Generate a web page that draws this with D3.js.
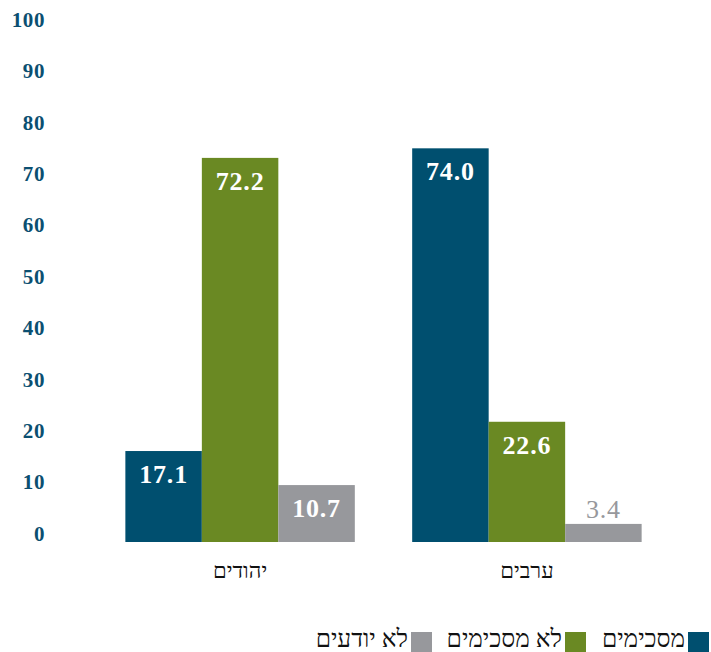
<!DOCTYPE html>
<html><head><meta charset="utf-8">
<script src="https://cdn.jsdelivr.net/npm/d3@7/dist/d3.min.js"></script>
<style>body{margin:0;background:#fff}svg{display:block}</style>
</head><body>
<svg id="c" width="711" height="652"></svg>
<script>
const groups = ["יהודים", "ערבים"];
const seriesNames = ["מסכימים", "לא מסכימים", "לא יודעים"];
const agree = [17.1, 74.0];
const disagree = [72.2, 22.6];
const dontKnow = [10.7, 3.4];
const yTicks = [0, 10, 20, 30, 40, 50, 60, 70, 80, 90, 100];
const colors = ["#004f6f", "#6a8923", "#97989c"];

const serif = "'Liberation Serif', 'DejaVu Serif', serif";
const svg = d3.select("#c");
const seriesVals = [agree, disagree, dontKnow];

const x0 = d3.scaleBand().domain(groups).range([68, 699]).paddingInner(0.2).paddingOuter(0.2);
const x1 = d3.scaleBand().domain(d3.range(3)).range([0, x0.bandwidth()]);
const y = d3.scaleLinear().domain([0, 100]).range([542, 10]);
const yAxisScale = d3.scaleLinear().domain([0, 100]).range([533, 19]);

// y axis labels
const ax = svg.append("g").attr("transform", "translate(45,0)")
  .call(d3.axisLeft(yAxisScale).tickValues(yTicks).tickSize(0).tickPadding(0));
ax.select(".domain").remove();
ax.selectAll("text").attr("font-family", serif).attr("font-weight", "bold")
  .attr("font-size", 21).attr("letter-spacing", 0.6).attr("fill", "#0b4f71").attr("dy", "0.35em");

const data = [];
groups.forEach((g, gi) => seriesVals.forEach((s, si) => data.push({g, si, v: s[gi]})));

svg.append("g").selectAll("rect").data(data).join("rect")
  .attr("x", d => x0(d.g) + x1(d.si))
  .attr("width", x1.bandwidth())
  .attr("y", d => y(d.v))
  .attr("height", d => y(0) - y(d.v))
  .attr("fill", d => colors[d.si]);

svg.append("g").selectAll("text").data(data).join("text")
  .attr("x", d => x0(d.g) + x1(d.si) + x1.bandwidth() / 2)
  .attr("y", d => d.v < 8 ? y(d.v) - 6 : y(d.v) + 32)
  .attr("text-anchor", "middle")
  .attr("font-family", serif)
  .attr("font-weight", d => d.v < 8 ? "normal" : "bold")
  .attr("font-size", 26)
  .attr("letter-spacing", 0.8)
  .attr("fill", d => d.v < 8 ? colors[2] : "#fff")
  .text(d => d.v.toFixed(1));

// group labels
svg.append("g").selectAll("text").data(groups).join("text")
  .attr("x", d => x0(d) + x0.bandwidth() / 2)
  .attr("y", 578)
  .attr("text-anchor", "middle")
  .attr("font-family", serif)
  .attr("font-size", 22)
  .attr("fill", "#111")
  .text(d => d);

// legend (RTL)
const legendBoxX = [688, 565, 411];
const leg = svg.append("g");
seriesNames.forEach((n, i) => {
  leg.append("rect").attr("x", legendBoxX[i]).attr("y", 632).attr("width", 21).attr("height", 20).attr("fill", colors[i]);
  leg.append("text").attr("x", legendBoxX[i] - 3).attr("y", 647)
    .attr("text-anchor", "end").attr("font-family", serif).attr("font-size", 24.5).attr("fill", "#111").text(n);
});
</script>
</body></html>
